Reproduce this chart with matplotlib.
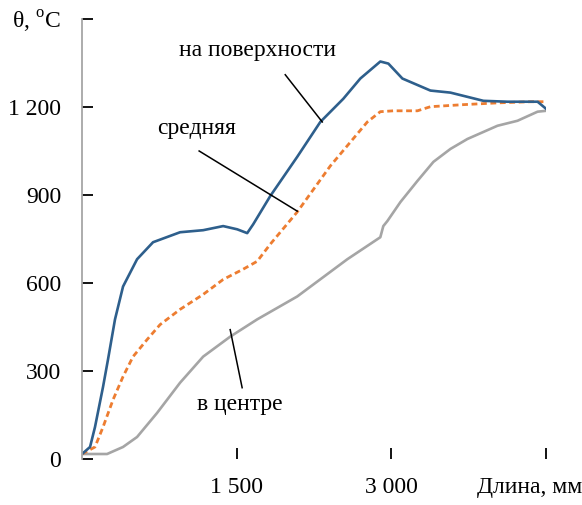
import matplotlib

matplotlib.use("Agg")
import matplotlib.pyplot as plt

# temperature along the length, degrees C
surf_x = [0, 78, 126, 204, 252, 320, 398, 534, 689, 951, 1175, 1369, 1505, 1602,
          1660, 1825, 2087, 2311, 2534, 2699, 2893, 2971, 3107, 3379, 3573, 3893,
          4126, 4418, 4500]
surf_y = [17, 41, 109, 246, 339, 476, 588, 681, 739, 773, 780, 794, 783, 770,
          800, 896, 1030, 1149, 1228, 1297, 1355, 1348, 1297, 1256, 1249, 1221,
          1218, 1218, 1194]

mean_x = [0, 126, 204, 301, 398, 495, 631, 757, 951, 1175, 1369, 1563, 1699,
          1825, 2087, 2408, 2767, 2893, 3020, 3253, 3379, 3699, 4029, 4350, 4500]
mean_y = [17, 41, 109, 202, 281, 349, 407, 458, 510, 561, 612, 647, 674, 732,
          842, 999, 1149, 1184, 1187, 1187, 1201, 1208, 1214, 1218, 1218]

core_x = [0, 243, 398, 534, 728, 951, 1175, 1437, 1699, 2087, 2573, 2893, 2922,
          2961, 3088, 3253, 3408, 3573, 3738, 4029, 4223, 4418, 4500]
core_y = [17, 17, 41, 75, 157, 260, 349, 417, 476, 554, 681, 756, 794, 811,
          876, 948, 1013, 1057, 1091, 1136, 1153, 1184, 1187]

x_ticks = [1500, 3000, 4500]
x_labels = ["1 500", "3 000", ""]
x_title = "Длина, мм"
y_ticks = [0, 300, 600, 900, 1200, 1500]
y_labels = ["0", "300", "600", "900", "1 200", r"θ, $^{\mathrm{o}}$C"]

plt.rcParams["font.family"] = ["Liberation Serif", "DejaVu Serif"]
plt.rcParams["mathtext.fontset"] = "custom"
plt.rcParams["mathtext.rm"] = "Liberation Serif"
plt.rcParams["font.size"] = 17

fig = plt.figure(figsize=(5.82, 5.05), dpi=100)
ax = fig.add_axes([0.1409, 0.0911, 0.7973, 0.8713])

ax.plot(core_x, core_y, color="#a5a5a5", lw=1.9)
ax.plot(mean_x, mean_y, color="#ed7d31", lw=2.0, dashes=(2.1, 1.3))
ax.plot(surf_x, surf_y, color="#2e5f8c", lw=1.9)

ax.set_xlim(0, 4500)
ax.set_ylim(0, 1500)
ax.set_xticks(x_ticks, x_labels)
ax.set_yticks(y_ticks, y_labels)
ax.tick_params(axis="both", direction="in", length=8, width=1.3,
               color="black", labelsize=17)
ax.tick_params(axis="y", pad=15)
ax.tick_params(axis="x", pad=13)
for t in ax.get_xticklines() + ax.get_yticklines():
    t.set_clip_on(False)

# axis title sits in place of the last x tick label, pushed inside the figure
ax.annotate(x_title, xy=(4500, 0), xytext=(36, -29), textcoords="offset pixels",
            ha="right", va="center", fontsize=17)

for side in ("top", "right", "bottom"):
    ax.spines[side].set_visible(False)
ax.spines["left"].set_color("#a6a6a6")
ax.spines["left"].set_linewidth(1.3)

# callouts
ax.plot([1971, 2330], [1310, 1149], color="black", lw=1.1)
ax.text(1700, 1392, "на поверхности", ha="center", va="center")
ax.plot([1136, 2087], [1050, 845], color="black", lw=1.1)
ax.text(1107, 1125, "средняя", ha="center", va="center")
ax.plot([1437, 1553], [441, 243], color="black", lw=1.1)
ax.text(1534, 185, "в центре", ha="center", va="center")

fig.savefig("out.png", dpi=100)
